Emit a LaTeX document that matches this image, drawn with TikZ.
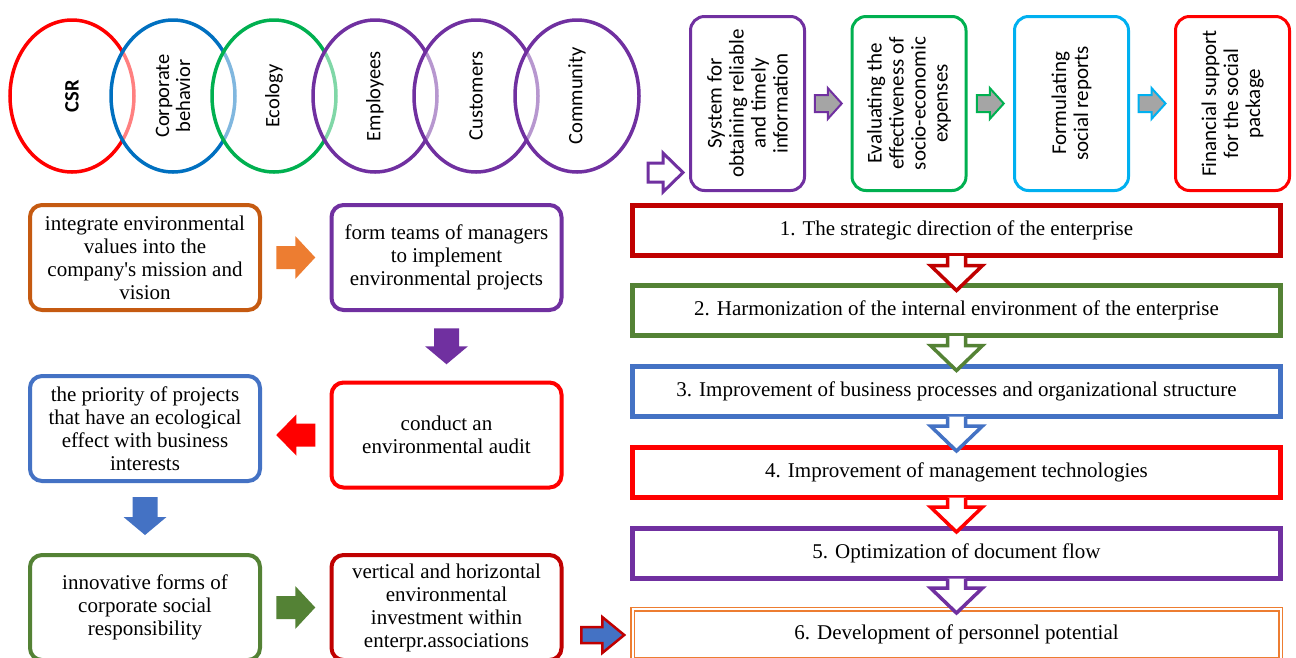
\documentclass[tikz,border=0pt]{standalone}
\usepackage{fontspec}
\setmainfont{Liberation Serif}
\newfontfamily\calibri{Carlito}
\usetikzlibrary{calc,shapes.geometric}

\definecolor{cRed}{HTML}{FF0000}
\definecolor{cBlue}{HTML}{0070C0}
\definecolor{cGreen}{HTML}{00B050}
\definecolor{cPurple}{HTML}{7030A0}
\definecolor{cCyan}{HTML}{00B0F0}
\definecolor{cDarkRed}{HTML}{C00000}
\definecolor{cOlive}{HTML}{548235}
\definecolor{cSteel}{HTML}{4472C4}
\definecolor{cOrange}{HTML}{ED7D31}
\definecolor{cRust}{HTML}{C55A11}
\definecolor{cGrey}{HTML}{A5A5A5}

% block arrow: style, centre, angle, length, head length, head width, shaft width
\newcommand{\fatarrow}[7]{%
  \filldraw[#1, line join=miter, shift={#2}, rotate=#3]
    ({-(#4)/2},{-(#7)/2}) -- ({(#4)/2-(#5)},{-(#7)/2}) -- ({(#4)/2-(#5)},{-(#6)/2})
    -- ({(#4)/2},0) -- ({(#4)/2-(#5)},{(#6)/2}) -- ({(#4)/2-(#5)},{(#7)/2})
    -- ({-(#4)/2},{(#7)/2}) -- cycle;}

% open-topped hollow arrow hanging from the lower edge of a bar
\newcommand{\droparrow}[2]{%
  \fill[white] ($(#2.south)+(-9,-2)$) -- ($(#2.south)+(-9,7.5)$) -- ($(#2.south)+(-26,7.5)$)
    -- ($(#2.south)+(0,32.5)$) -- ($(#2.south)+(26,7.5)$) -- ($(#2.south)+(9,7.5)$)
    -- ($(#2.south)+(9,-2)$) -- cycle;
  \draw[#1, line width=3.5pt, line join=miter] ($(#2.south)+(-9,-2)$) -- ($(#2.south)+(-9,7.5)$)
    -- ($(#2.south)+(-26,7.5)$) -- ($(#2.south)+(0,32.5)$) -- ($(#2.south)+(26,7.5)$)
    -- ($(#2.south)+(9,7.5)$) -- ($(#2.south)+(9,-2)$);}

\tikzset{
  sphere/.style={ellipse, draw, line width=3.5pt, fill=white, fill opacity=0.5,
    text opacity=1, inner sep=0pt, minimum width=152pt, minimum height=124pt,
    rotate=90, align=center, font=\calibri\fontsize{20.5}{21}\selectfont},
  topbox/.style={draw, rounded corners=14pt, line width=3pt, fill=white,
    minimum width=174pt, minimum height=114pt, inner sep=0pt, rotate=90,
    align=center, font=\calibri\fontsize{21}{22}\selectfont},
  leftbox/.style={draw, rounded corners=12pt, line width=4pt, fill=white,
    minimum width=230pt, minimum height=105pt, inner sep=0pt, align=center,
    font=\fontsize{21}{23}\selectfont},
  barbox/.style={draw, line width=5pt, fill=white, minimum width=648pt,
    minimum height=50pt, inner sep=0pt, font=\fontsize{21}{23}\selectfont},
}

\begin{document}
\begin{tikzpicture}[x=1pt, y=-1pt]
\useasboundingbox (0,0) rectangle (1296,657);
\fill[white] (0,0) rectangle (1296,657);
\clip (0,0) rectangle (1296,657);

% chain of overlapping ellipses
\node[sphere, draw=cRed]    (csr)  at (72,96)  {\bfseries CSR};
\node[sphere, draw=cBlue]   (corp) at (173,96) {Corporate\\behavior};
\node[sphere, draw=cGreen]  (eco)  at (274,96) {Ecology};
\node[sphere, draw=cPurple] (emp)  at (375,96) {Employees};
\node[sphere, draw=cPurple] (cust) at (476,96) {Customers};
\node[sphere, draw=cPurple] (comm) at (577,96) {Community};

% upper row of vertical boxes
\node[topbox, draw=cPurple] (info) at (747.5,103.5) {System for\\obtaining reliable\\and timely\\information};
\node[topbox, draw=cGreen]  (eval) at (909,103.5)   {Evaluating the\\effectiveness of\\socio-economic\\expenses};
\node[topbox, draw=cCyan]   (rep)  at (1071.5,103.5) {Formulating\\social reports};
\node[topbox, draw=cRed]    (fin)  at (1232.5,103.5) {Financial support\\for the social\\package};

\fatarrow{fill=cGrey, draw=cPurple, line width=2pt}{($(info)!0.5!(eval)$)}{0}{27}{14}{31}{17}
\fatarrow{fill=cGrey, draw=cGreen, line width=2pt}{($(eval)!0.5!(rep)$)}{0}{27}{14}{31}{17}
\fatarrow{fill=cGrey, draw=cCyan, line width=2pt}{($(rep)!0.5!(fin)$)}{0}{27}{14}{31}{17}
\fatarrow{fill=white, draw=cPurple, line width=3pt}{($(info)+(-82,69)$)}{0}{35}{20}{39}{19}

% environmental cycle on the left
\node[leftbox, draw=cRust]    (integ)  at (145,257.5)   {integrate environmental\\values into the\\company\textquotesingle s mission and\\vision};
\node[leftbox, draw=cPurple]  (teams)  at (446.5,257.5) {form teams of managers\\to implement\\environmental projects};
\node[leftbox, draw=cSteel]   (prio)   at (145,428.5)   {the priority of projects\\that have an ecological\\effect with business\\interests};
\node[leftbox, draw=cRed]     (audit)  at (446.5,435)   {conduct an\\environmental audit};
\node[leftbox, draw=cOlive]   (innov)  at (145,607.5)   {innovative forms of\\corporate social\\responsibility};
\node[leftbox, draw=cDarkRed] (invest) at (446.5,607.5) {vertical and horizontal\\environmental\\investment within\\enterpr.associations};

\coordinate (midcol) at ($(integ.east)!0.5!(teams.west)$);
\fatarrow{fill=cOrange, draw=none}{(midcol)}{0}{39}{20}{43}{23}
\fatarrow{fill=cPurple, draw=none}{($(teams.south)!0.5!(audit.north)$)}{-90}{36}{18}{43}{25}
\fatarrow{fill=cRed, draw=none}{(midcol |- audit)}{180}{39}{20}{41}{23}
\fatarrow{fill=cSteel, draw=none}{($(prio.south)!0.5!(innov.north)+(0,-2)$)}{-90}{38}{18}{43}{25}
\fatarrow{fill=cOlive, draw=none}{(midcol |- innov)}{0}{39}{20}{43}{23}

% stages on the right
\node[barbox, draw=cDarkRed] (s1) at (956.5,230.5) {1. The strategic direction of the enterprise};
\node[barbox, draw=cOlive]   (s2) at (956.5,310.5) {2. Harmonization of the internal environment of the enterprise};
\node[barbox, draw=cSteel]   (s3) at (956.5,391)   {3. Improvement of business processes and organizational structure};
\node[barbox, draw=cRed]     (s4) at (956.5,472)   {4. Improvement of management technologies};
\node[barbox, draw=cPurple]  (s5) at (956.5,553)   {5. Optimization of document flow};
\node[barbox, draw=cOrange, line width=1.5pt, double=white, double distance=2pt] (s6) at (956.5,634) {6. Development of personnel potential};

\droparrow{cDarkRed}{s1}
\droparrow{cOlive}{s2}
\droparrow{cSteel}{s3}
\droparrow{cRed}{s4}
\droparrow{cPurple}{s5}

\fatarrow{fill=cSteel, draw=cDarkRed, line width=2.5pt}{($(s6.west)+(-29,1)$)}{0}{43}{22}{36}{16}
\end{tikzpicture}
\end{document}
